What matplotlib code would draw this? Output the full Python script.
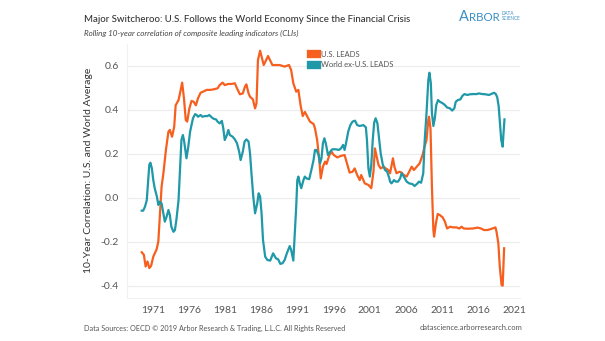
import matplotlib.pyplot as plt

# Rolling 10-year correlation of CLIs (fractional years)
us_years = [1969.4, 1969.7, 1969.94, 1970.2, 1970.45, 1970.7, 1971.0, 1971.46, 1971.7, 1971.9,
            1972.15, 1972.4, 1972.75, 1973.1, 1973.3, 1973.6, 1973.9, 1974.1, 1974.5, 1974.7,
            1975.0, 1975.25, 1975.5, 1975.7, 1976.0, 1976.3, 1976.6, 1976.9, 1977.2, 1977.55,
            1977.9, 1978.4, 1978.85, 1979.3, 1979.9, 1980.2, 1980.6, 1980.9, 1981.4, 1981.85,
            1982.3, 1982.6, 1983.0, 1983.4, 1983.7, 1983.9, 1984.2, 1984.4, 1984.8, 1985.1,
            1985.3, 1985.5, 1985.8, 1986.3, 1986.9, 1987.5, 1988.5, 1989.2, 1989.8, 1990.1,
            1990.4, 1990.8, 1991.1, 1991.4, 1991.7, 1992.0, 1992.3, 1992.7, 1993.2, 1993.4,
            1993.7, 1994.0, 1994.2, 1994.5, 1994.8, 1995.0, 1995.4, 1995.7, 1996.0, 1996.5,
            1997.0, 1997.5, 1997.9, 1998.2, 1998.6, 1998.9, 1999.25, 1999.6, 1999.8, 2000.3,
            2000.8, 2001.2, 2001.5, 2001.7, 2001.9, 2002.2, 2002.5, 2002.9, 2003.2, 2003.55,
            2003.8, 2004.2, 2004.4, 2004.7, 2005.1, 2005.4, 2005.7, 2006.1, 2006.45, 2006.8,
            2007.1, 2007.5, 2007.9, 2008.3, 2008.6, 2008.85, 2009.1, 2009.2, 2009.4, 2009.6,
            2009.8, 2009.9, 2010.15, 2010.4, 2010.7, 2011.1, 2011.4, 2011.7, 2012.1, 2012.55,
            2013.0, 2013.4, 2013.7, 2014.0, 2014.6, 2015.3, 2015.9, 2016.4, 2016.8, 2017.3,
            2017.9, 2018.4, 2018.55, 2018.8, 2019.0, 2019.25, 2019.4, 2019.5, 2019.6]
us_leads = [-0.248, -0.26, -0.313, -0.29, -0.32, -0.31, -0.268, -0.235, -0.2, -0.086,
            0.05, 0.11, 0.217, 0.3, 0.308, 0.277, 0.323, 0.42, 0.444, 0.474,
            0.523, 0.452, 0.353, 0.346, 0.406, 0.44, 0.436, 0.42, 0.452, 0.477,
            0.482, 0.49, 0.49, 0.492, 0.497, 0.512, 0.523, 0.512, 0.517, 0.517,
            0.52, 0.497, 0.47, 0.474, 0.505, 0.515, 0.474, 0.459, 0.447, 0.406,
            0.429, 0.626, 0.668, 0.603, 0.644, 0.603, 0.603, 0.596, 0.603, 0.58,
            0.52, 0.482, 0.49, 0.421, 0.371, 0.39, 0.371, 0.346, 0.335, 0.315,
            0.262, 0.171, 0.088, 0.141, 0.164, 0.153, 0.194, 0.209, 0.194, 0.183,
            0.19, 0.194, 0.149, 0.114, 0.118, 0.133, 0.103, 0.08, 0.103, 0.065,
            0.058, 0.043, 0.118, 0.224, 0.194, 0.149, 0.133, 0.141, 0.133, 0.126,
            0.111, 0.179, 0.141, 0.111, 0.118, 0.114, 0.103, 0.096, 0.118, 0.141,
            0.126, 0.141, 0.156, 0.194, 0.235, 0.262, 0.353, 0.368, 0.315, 0.05,
            -0.147, -0.177, -0.117, -0.074, -0.079, -0.09, -0.109, -0.14, -0.132, -0.135,
            -0.135, -0.14, -0.132, -0.14, -0.141, -0.14, -0.136, -0.14, -0.147, -0.147,
            -0.141, -0.135, -0.155, -0.207, -0.314, -0.397, -0.40, -0.31, -0.23]

world_years = [1969.4, 1969.6, 1969.85, 1970.1, 1970.3, 1970.45, 1970.6, 1970.8, 1971.0, 1971.2,
               1971.5, 1971.7, 1971.9, 1972.15, 1972.4, 1972.6, 1972.85, 1973.1, 1973.3, 1973.5,
               1973.8, 1974.0, 1974.2, 1974.5, 1974.7, 1974.9, 1975.1, 1975.25, 1975.5, 1975.6,
               1975.85, 1976.1, 1976.3, 1976.5, 1976.8, 1977.0, 1977.2, 1977.55, 1977.8, 1978.15,
               1978.5, 1978.75, 1979.1, 1979.4, 1979.7, 1979.9, 1980.2, 1980.5, 1980.7, 1980.9,
               1981.2, 1981.4, 1981.6, 1982.0, 1982.3, 1982.6, 1982.9, 1983.1, 1983.4, 1983.65,
               1983.9, 1984.2, 1984.4, 1984.6, 1984.85, 1985.1, 1985.4, 1985.6, 1985.8, 1986.0,
               1986.2, 1986.5, 1986.8, 1987.2, 1987.6, 1988.0, 1988.3, 1988.6, 1988.9, 1989.2,
               1989.5, 1989.9, 1990.1, 1990.4, 1990.5, 1990.8, 1990.95, 1991.1, 1991.3, 1991.5,
               1991.8, 1992.0, 1992.2, 1992.6, 1992.9, 1993.2, 1993.4, 1993.6, 1993.9, 1994.1,
               1994.3, 1994.5, 1994.7, 1994.9, 1995.2, 1995.5, 1995.8, 1996.3, 1996.7, 1997.0,
               1997.3, 1997.5, 1997.7, 1998.0, 1998.3, 1998.6, 1998.95, 1999.25, 1999.6, 2000.1,
               2000.45, 2000.6, 2000.8, 2001.0, 2001.2, 2001.4, 2001.6, 2001.8, 2002.05, 2002.3,
               2002.5, 2002.8, 2003.1, 2003.4, 2003.7, 2003.8, 2004.0, 2004.35, 2004.6, 2004.9,
               2005.2, 2005.4, 2005.7, 2006.1, 2006.45, 2006.9, 2007.2, 2007.6, 2007.8, 2008.1,
               2008.4, 2008.6, 2008.85, 2009.1, 2009.25, 2009.45, 2009.6, 2009.8, 2010.0, 2010.2,
               2010.45, 2010.7, 2011.1, 2011.4, 2011.7, 2012.1, 2012.4, 2012.7, 2012.9, 2013.2,
               2013.55, 2013.8, 2014.1, 2014.5, 2014.85, 2015.3, 2015.8, 2016.1, 2016.6, 2017.0,
               2017.5, 2017.8, 2018.2, 2018.45, 2018.65, 2018.85, 2019.0, 2019.2, 2019.4, 2019.5,
               2019.65]
world_leads = [-0.059, -0.059, -0.041, -0.011, 0.08, 0.149, 0.159, 0.134, 0.08, 0.043,
               0.005, -0.033, -0.018, -0.026, -0.071, -0.109, -0.086, -0.056, -0.079, -0.132,
               -0.155, -0.147, -0.101, -0.011, 0.126, 0.262, 0.285, 0.262, 0.202, 0.179,
               0.232, 0.3, 0.33, 0.361, 0.38, 0.376, 0.368, 0.376, 0.368, 0.371,
               0.371, 0.376, 0.365, 0.358, 0.356, 0.346, 0.338, 0.349, 0.315, 0.262,
               0.285, 0.308, 0.285, 0.277, 0.265, 0.247, 0.209, 0.171, 0.209, 0.255,
               0.265, 0.255, 0.202, 0.111, 0.005, -0.071, -0.026, 0.02, 0.005, -0.071,
               -0.192, -0.268, -0.283, -0.286, -0.253, -0.276, -0.28, -0.301, -0.298, -0.283,
               -0.253, -0.22, -0.238, -0.286, -0.223, -0.041, 0.08, 0.096, 0.065, 0.043,
               0.08, 0.096, 0.088, 0.084, 0.126, 0.171, 0.217, 0.217, 0.194, 0.156,
               0.179, 0.247, 0.27, 0.247, 0.194, 0.209, 0.22, 0.22, 0.217, 0.224,
               0.24, 0.217, 0.247, 0.3, 0.33, 0.346, 0.35, 0.33, 0.326, 0.33,
               0.32, 0.262, 0.133, 0.096, 0.149, 0.262, 0.341, 0.361, 0.338, 0.262,
               0.202, 0.149, 0.126, 0.118, 0.088, 0.073, 0.065, 0.08, 0.073, 0.073,
               0.088, 0.111, 0.096, 0.073, 0.065, 0.062, 0.053, 0.065, 0.073, 0.068,
               0.111, 0.262, 0.384, 0.535, 0.568, 0.52, 0.384, 0.326, 0.361, 0.421,
               0.444, 0.436, 0.429, 0.421, 0.41, 0.406, 0.396, 0.406, 0.436, 0.444,
               0.447, 0.462, 0.471, 0.467, 0.47, 0.471, 0.471, 0.474, 0.471, 0.47,
               0.467, 0.471, 0.477, 0.471, 0.456, 0.414, 0.346, 0.262, 0.232, 0.285,
               0.356]

tick_years = [1971, 1976, 1981, 1986, 1991, 1996, 2001, 2006, 2011, 2016, 2021]
y_ticks = [-0.4, -0.2, 0.0, 0.2, 0.4, 0.6]

orange = '#f75f1f'
teal = '#1f98a8'
logo_blue = '#3a8fc4'

plt.rcParams['font.family'] = ['Lato', 'DejaVu Sans']

fig = plt.figure(figsize=(6.05, 3.41), dpi=100)
ax = fig.add_axes([127 / 605, 1 - 298 / 341, 393 / 605, 254.3 / 341])

ax.plot(us_years, us_leads, color=orange, lw=1.6, label='U.S. LEADS')
ax.plot(world_years, world_leads, color=teal, lw=1.6, label='World ex-U.S. LEADS')

ax.set_xlim(1967.36, 2021.8)
ax.set_ylim(-0.456, 0.7)
ax.set_xticks(tick_years)
ax.set_xticklabels([str(y) for y in tick_years])
ax.set_yticks(y_ticks)
ax.set_yticklabels(['-0.4', '-0.2', '0.0', '0.2', '0.4', '0.6'])
ax.tick_params(length=0, labelsize=7.5, labelcolor='#555555', pad=6)
ax.grid(axis='y', color='#ececec', lw=0.8)
ax.set_axisbelow(True)
for s in ['top', 'right']:
    ax.spines[s].set_visible(False)
for s in ['left', 'bottom']:
    ax.spines[s].set_color('#f0f0f0')

ax.set_ylabel('10-Year Correlation: U.S. and World Average', fontsize=7.5,
              color='#333333', labelpad=5)

leg = ax.legend(loc='upper left', bbox_to_anchor=(0.45, 1.0), frameon=False,
                fontsize=5.5, handlelength=0.8, handleheight=0.8, handletextpad=0.5,
                labelspacing=0.5, labelcolor='#555555')
for h in leg.legend_handles:
    h.set_linewidth(6)

fig.text(84 / 605, 1 - 19 / 341, 'Major Switcheroo: U.S. Follows the World Economy Since the Financial Crisis',
         fontsize=6.9, color='#333333', va='center', weight='medium')
fig.text(84 / 605, 1 - 33 / 341, 'Rolling 10-year correlation of composite leading indicators (CLIs)',
         fontsize=5.8, color='#444444', va='center', style='italic')

# logo: small-caps style "ARBOR" plus stacked "DATA SCIENCE"
a_txt = fig.text(459 / 605, 1 - 21 / 341, 'A', fontsize=10.5, color=logo_blue, va='baseline')
fig.canvas.draw()
a_end = a_txt.get_window_extent().x1 / fig.bbox.width
fig.text(a_end, 1 - 21 / 341, 'RBOR', fontsize=8.3, color=logo_blue, va='baseline')
fig.text(502 / 605, 1 - 13.5 / 341, 'DATA', fontsize=3.3, color=logo_blue, va='center')
fig.text(502 / 605, 1 - 18.5 / 341, 'SCIENCE', fontsize=3.3, color=logo_blue, va='center')

fig.text(84 / 605, 1 - 328 / 341,
         'Data Sources: OECD \u00a9 2019 Arbor Research & Trading, L.L.C. All Rights Reserved',
         fontsize=5.2, color='#555555', va='center')
fig.text(522 / 605, 1 - 328 / 341, 'datascience.arborresearch.com',
         fontsize=5.4, color='#555555', va='center', ha='right')

fig.savefig('out.png', dpi=100, facecolor='white')
